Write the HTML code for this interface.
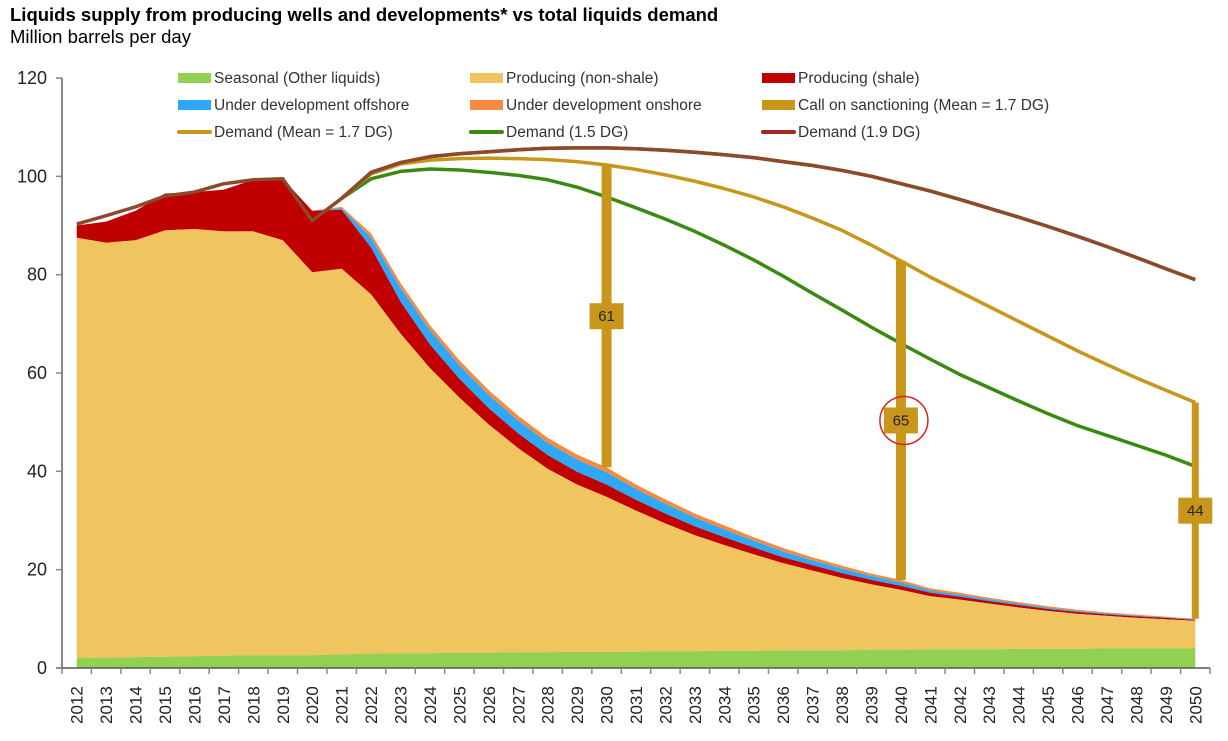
<!DOCTYPE html>
<html><head><meta charset="utf-8"><style>
body{margin:0;background:#fff;font-family:"Liberation Sans",Arial,sans-serif;}
#wrap{position:relative;width:1228px;height:741px;overflow:hidden;}
.t1{position:absolute;left:10px;top:4px;font-size:18.5px;font-weight:bold;color:#000;}
.t2{position:absolute;left:10px;top:26px;font-size:18.5px;color:#000;}
</style></head><body>
<div id="wrap">
<div class="t1">Liquids supply from producing wells and developments* vs total liquids demand</div>
<div class="t2">Million barrels per day</div>
<svg id="svg" width="1228" height="741" style="position:absolute;left:0;top:0"></svg>
</div>
<script>
const years=[2012,2013,2014,2015,2016,2017,2018,2019,2020,2021,2022,2023,2024,2025,2026,2027,2028,2029,2030,2031,2032,2033,2034,2035,2036,2037,2038,2039,2040,2041,2042,2043,2044,2045,2046,2047,2048,2049,2050];
const seasonal=[2,2.1,2.2,2.3,2.4,2.5,2.6,2.6,2.6,2.8,2.9,3,3,3.1,3.1,3.2,3.2,3.3,3.3,3.3,3.4,3.4,3.5,3.5,3.6,3.6,3.6,3.7,3.7,3.8,3.8,3.8,3.9,3.9,3.9,4,4,4,4];
const nonShaleTop=[87.5,86.5,87,89,89.3,88.8,88.8,87,80.5,81.2,76,68,61,55,49.5,44.7,40.5,37.3,34.8,32,29.4,27,25,23.1,21.3,19.8,18.3,17,15.9,14.6,13.9,13.1,12.3,11.6,11,10.6,10.2,9.9,9.6];
const shale=[2.5,4.3,6,7.5,7.5,8.5,10.5,12.5,12.5,12,9.5,6.5,4.8,3.8,3.3,3,2.8,2.6,2.5,2.2,2,1.8,1.6,1.4,1.2,1.1,1,0.9,0.8,0.7,0.6,0.5,0.5,0.4,0.4,0.3,0.3,0.3,0.2];
const offshore=[0,0,0,0,0,0,0,0,0,0.3,2,2.8,2.9,2.8,2.7,2.6,2.5,2.5,2.5,2.2,2,1.8,1.6,1.4,1.2,1,0.9,0.8,0.7,0.5,0.4,0.35,0.3,0.25,0.2,0.2,0.15,0.1,0.1];
const onshore=[0,0,0,0,0,0,0,0,0,0.3,0.9,1,1,1,1,1,1,1,1,0.9,0.9,0.8,0.8,0.7,0.7,0.6,0.6,0.5,0.5,0.4,0.4,0.35,0.3,0.3,0.25,0.2,0.2,0.15,0.1];
const demandMean=[90.3,92,93.8,96,96.8,98.5,99.3,99.5,91,95.5,100.5,102.5,103.3,103.6,103.7,103.6,103.4,103,102.3,101.4,100.3,99,97.5,95.8,93.8,91.5,89,86,82.8,79.5,76.5,73.5,70.5,67.5,64.5,61.7,59,56.5,54];
const demand15=[90.3,92,93.8,96,96.8,98.5,99.3,99.5,91,95.5,99.5,101,101.5,101.3,100.8,100.2,99.3,97.8,95.8,93.6,91.3,88.8,86,83,79.7,76.2,72.8,69.3,66,62.8,59.7,57,54.3,51.7,49.3,47.3,45.3,43.3,41];
const demand19=[90.3,92,93.8,96,96.8,98.5,99.3,99.5,91,95.5,100.8,102.8,104,104.6,105,105.4,105.7,105.8,105.8,105.6,105.3,104.9,104.4,103.8,103,102.2,101.2,100,98.5,97,95.3,93.5,91.7,89.8,87.8,85.7,83.5,81.2,79];
const gapYears=[2030,2040,2050];
const gapLabels=["61","65","44"];
const yTicks=[0,20,40,60,80,100,120];

const NS='http://www.w3.org/2000/svg';
const svg=document.getElementById('svg');
const X0=62,X1=1210,Y0=668,Y1=78;
const band=(X1-X0)/years.length;
function x(i){return X0+band*(i+0.5);}
function y(v){return Y0-(Y0-Y1)*v/120;}
function el(t,a,p){const e=document.createElementNS(NS,t);for(const k in a)e.setAttribute(k,a[k]);(p||svg).appendChild(e);return e;}

const base=seasonal.map(()=>0);
const l1=seasonal.slice();
const l2=nonShaleTop.slice();
const l3=l2.map((v,i)=>v+shale[i]);
const l4=l3.map((v,i)=>v+offshore[i]);
const l5=l4.map((v,i)=>v+onshore[i]);
function area(lo,hi,fill,name){
  let d='M'+x(0)+','+y(hi[0]);
  for(let i=1;i<years.length;i++)d+='L'+x(i)+','+y(hi[i]);
  for(let i=years.length-1;i>=0;i--)d+='L'+x(i)+','+y(lo[i]);
  const p=el('path',{d:d+'Z',fill:fill});
  
  
}
area(l4,l5,'#f88a40','area-onshore');
area(l3,l4,'#2ea8f8','area-offshore');
area(l2,l3,'#c00000','area-shale');
area(l1,l2,'#f0c45e','area-non-shale');
area(base,l1,'#92d050','area-seasonal');

function line(arr,col,name,from){
  let d='';
  for(let i=from;i<years.length;i++)d+=(i==from?'M':'L')+x(i)+','+y(arr[i]);
  const p=el('path',{d:d,fill:'none',stroke:col,'stroke-width':3.5,'stroke-linejoin':'round'});
  
  
}
line(demand15,'#3a8a12','line-demand-1-5',9);
line(demandMean,'#c8961a','line-demand-mean',9);
line(demand19,'#9e2a22','line-demand-1-9',9);
line(demand19,'#8c4a2a','line-demand-history',0);

gapYears.forEach((yr,k)=>{
  const i=years.indexOf(yr);
  const top=demandMean[i],bot=l5[i];
  const cx=x(i);
  const w=k==2?7:10;
  const r=el('rect',{x:cx-w/2,y:y(top),width:w,height:y(bot)-y(top),fill:'#c8961a'});
  
  
  const my=y((top+bot)/2);
  const b=el('rect',{x:cx-17,y:my-13,width:34,height:26,fill:'#c8961a'});
  
  
  const t=el('text',{x:cx,y:my+5,'text-anchor':'middle','font-size':15,fill:'#222'});
  t.textContent=gapLabels[k];
  
  
  if(k==1){
    const c=el('circle',{cx:cx+3,cy:my,r:24,fill:'none',stroke:'#e02020','stroke-width':1.5});
    
    
  }
});

const ya=el('line',{x1:X0,y1:Y1,x2:X0,y2:Y0,stroke:'#888','stroke-width':2});


const xa=el('line',{x1:X0-6,y1:Y0,x2:X1,y2:Y0,stroke:'#555','stroke-width':1.5});


yTicks.forEach(v=>{
  el('line',{x1:X0-6,y1:y(v),x2:X0,y2:y(v),stroke:'#888','stroke-width':1.5});
  const t=el('text',{x:X0-15,y:y(v)+6,'text-anchor':'end','font-size':18,fill:'#222'});
  t.textContent=v;
  
  
});
years.forEach((yr,i)=>{
  el('line',{x1:X0+band*i,y1:Y0,x2:X0+band*i,y2:Y0+6,stroke:'#888','stroke-width':1.5});
  const t=el('text',{transform:'translate('+(x(i)+6)+','+(Y0+56)+') rotate(-90)','font-size':17,fill:'#222'});
  t.textContent=yr;
  
  
});
el('line',{x1:X1,y1:Y0,x2:X1,y2:Y0+6,stroke:'#888','stroke-width':1.5});

const legend=[
 ['Seasonal (Other liquids)','#92d050','box',178,78],
 ['Producing (non-shale)','#f0c45e','box',470,78],
 ['Producing (shale)','#c00000','box',762,78],
 ['Under development offshore','#2ea8f8','box',178,105],
 ['Under development onshore','#f88a40','box',470,105],
 ['Call on sanctioning (Mean = 1.7 DG)','#c8961a','box',762,105],
 ['Demand (Mean = 1.7 DG)','#c8961a','line',178,132],
 ['Demand (1.5 DG)','#3a8a12','line',470,132],
 ['Demand (1.9 DG)','#9e2a22','line',762,132]
];
legend.forEach(L=>{
  const g=el('g',{});
  
  
  if(L[2]=='box')el('rect',{x:L[3],y:L[4]-5,width:33,height:10,fill:L[1]},g);
  else el('line',{x1:L[3]+1,y1:L[4],x2:L[3]+32,y2:L[4],stroke:L[1],'stroke-width':4,'stroke-linecap':'round'},g);
  const t=el('text',{x:L[3]+36,y:L[4]+5,'font-size':15.5,fill:'#333'},g);
  t.textContent=L[0];
});
</script>
</body></html>
